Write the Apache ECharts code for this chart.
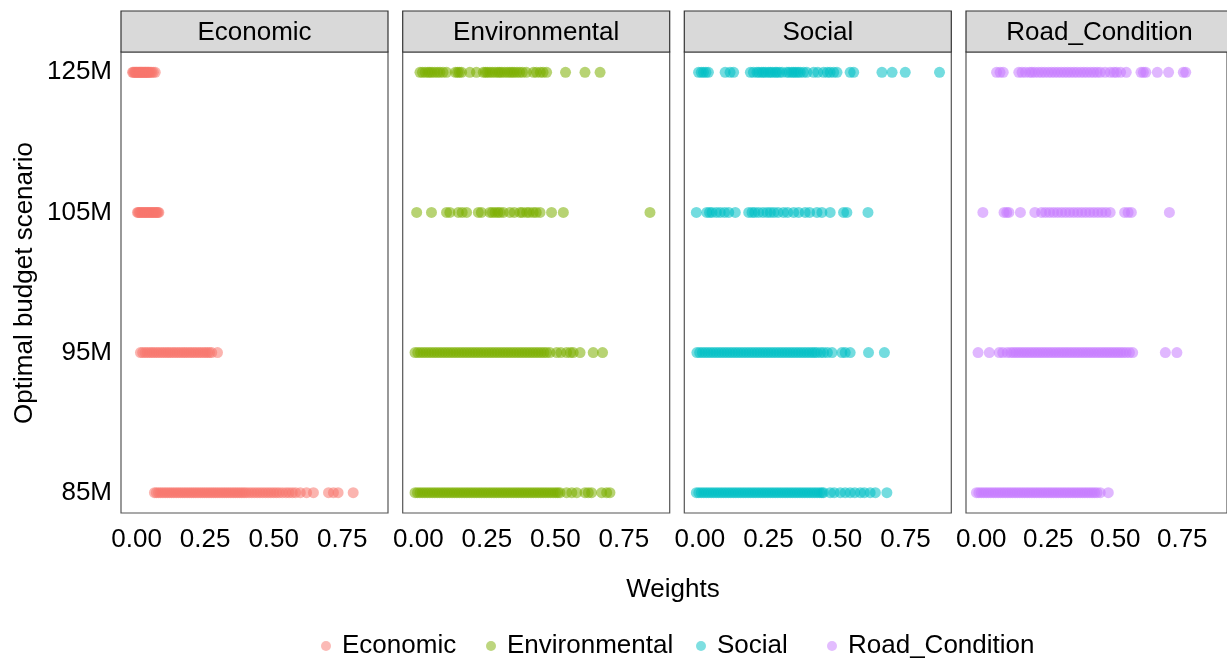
<!DOCTYPE html>
<html>
<head>
<meta charset="utf-8">
<script src="https://cdn.jsdelivr.net/npm/echarts@6/dist/echarts.min.js"></script>
<style>
html,body{margin:0;padding:0;background:#fff;}
#chart{width:1227px;height:658px;}
</style>
</head>
<body>
<div id="chart"></div>
<script>
// ---- data ----
const budgets = ['85M', '95M', '105M', '125M'];
const facets = ['Economic', 'Environmental', 'Social', 'Road_Condition'];
const facetColors = ['#F8766D', '#7CAE00', '#00BFC4', '#C77CFF'];
const xTickValues = [0, 0.25, 0.5, 0.75];

// Economic weights per budget scenario
const econ_85 = [0.065,0.072,0.080,0.088,0.096,0.104,0.112,0.120,0.128,0.136,0.144,0.152,0.160,0.168,0.176,0.184,0.192,0.200,0.208,0.216,0.224,0.232,0.240,0.248,0.256,0.264,0.272,0.280,0.288,0.296,0.304,0.312,0.320,0.328,0.336,0.344,0.352,0.360,0.368,0.376,0.384,0.392,0.400,0.410,0.420,0.430,0.440,0.450,0.460,0.470,0.480,0.490,0.500,0.510,0.520,0.532,0.545,0.556,0.568,0.580,0.597,0.620,0.645,0.700,0.718,0.735,0.790];
const econ_95 = [0.014,0.022,0.031,0.039,0.048,0.056,0.064,0.073,0.081,0.090,0.098,0.107,0.115,0.123,0.132,0.140,0.149,0.157,0.166,0.174,0.182,0.191,0.199,0.208,0.216,0.225,0.233,0.242,0.250,0.258,0.266,0.274,0.295];
const econ_105 = [0.003,0.006,0.010,0.014,0.018,0.022,0.026,0.030,0.034,0.038,0.042,0.046,0.050,0.054,0.058,0.062,0.066,0.070,0.074,0.078,0.081];
const econ_125 = [-0.015,-0.012,-0.008,-0.005,-0.002,0.001,0.004,0.007,0.010,0.013,0.016,0.019,0.022,0.025,0.028,0.031,0.034,0.037,0.040,0.043,0.046,0.050,0.055,0.061,0.068];

// Environmental weights
const env_85 = [-0.012,-0.003,0.006,0.015,0.024,0.033,0.042,0.051,0.060,0.069,0.078,0.087,0.096,0.105,0.114,0.123,0.132,0.141,0.150,0.159,0.168,0.177,0.186,0.195,0.204,0.213,0.222,0.231,0.240,0.249,0.258,0.267,0.276,0.285,0.294,0.303,0.312,0.321,0.330,0.339,0.348,0.357,0.366,0.375,0.384,0.393,0.402,0.411,0.420,0.429,0.438,0.447,0.456,0.465,0.474,0.483,0.492,0.501,0.509,0.517,0.541,0.560,0.578,0.608,0.620,0.632,0.669,0.687,0.699];
const env_95 = [-0.012,-0.002,0.008,0.018,0.028,0.038,0.048,0.058,0.068,0.078,0.088,0.098,0.108,0.118,0.128,0.138,0.148,0.158,0.168,0.178,0.188,0.198,0.208,0.218,0.228,0.238,0.248,0.258,0.268,0.278,0.288,0.298,0.308,0.318,0.328,0.338,0.348,0.358,0.368,0.378,0.388,0.398,0.408,0.418,0.428,0.438,0.448,0.458,0.468,0.480,0.505,0.520,0.541,0.555,0.565,0.590,0.638,0.672];
const env_105 = [-0.006,0.048,0.103,0.115,0.146,0.160,0.176,0.219,0.230,0.261,0.270,0.280,0.290,0.298,0.310,0.334,0.350,0.371,0.380,0.395,0.405,0.419,0.430,0.444,0.486,0.529,0.845];
const env_125 = [0.006,0.015,0.025,0.035,0.042,0.050,0.060,0.070,0.079,0.090,0.103,0.135,0.143,0.150,0.158,0.188,0.212,0.237,0.245,0.252,0.261,0.270,0.280,0.290,0.297,0.305,0.315,0.325,0.334,0.342,0.350,0.360,0.370,0.380,0.394,0.420,0.431,0.445,0.455,0.468,0.537,0.608,0.663];

// Social weights
const soc_85 = [-0.013,-0.004,0.005,0.014,0.023,0.032,0.041,0.050,0.059,0.068,0.077,0.086,0.095,0.104,0.113,0.122,0.131,0.140,0.149,0.158,0.167,0.176,0.185,0.194,0.203,0.212,0.221,0.230,0.239,0.248,0.257,0.266,0.275,0.284,0.293,0.302,0.311,0.320,0.329,0.338,0.347,0.356,0.365,0.374,0.383,0.392,0.401,0.410,0.419,0.428,0.437,0.445,0.451,0.475,0.490,0.512,0.530,0.548,0.565,0.585,0.600,0.621,0.640,0.682];
const soc_95 = [-0.011,-0.001,0.009,0.019,0.029,0.039,0.049,0.059,0.069,0.079,0.089,0.099,0.109,0.119,0.129,0.139,0.149,0.159,0.169,0.179,0.189,0.199,0.209,0.219,0.229,0.239,0.249,0.259,0.269,0.279,0.289,0.299,0.309,0.319,0.329,0.339,0.349,0.359,0.369,0.379,0.389,0.399,0.409,0.418,0.427,0.440,0.451,0.465,0.482,0.518,0.530,0.548,0.615,0.673];
const soc_105 = [-0.013,0.025,0.035,0.044,0.060,0.074,0.090,0.105,0.129,0.178,0.190,0.200,0.214,0.230,0.245,0.257,0.270,0.285,0.305,0.320,0.342,0.360,0.384,0.400,0.427,0.445,0.475,0.524,0.536,0.613];
const soc_125 = [-0.005,0.005,0.013,0.022,0.031,0.092,0.110,0.123,0.184,0.195,0.208,0.215,0.225,0.232,0.240,0.250,0.257,0.265,0.275,0.281,0.290,0.300,0.317,0.325,0.335,0.342,0.350,0.358,0.366,0.378,0.390,0.415,0.430,0.451,0.465,0.475,0.488,0.500,0.548,0.561,0.664,0.701,0.749,0.874];

// Road_Condition weights
const road_85 = [-0.018,-0.009,0.000,0.009,0.018,0.027,0.036,0.045,0.054,0.063,0.072,0.081,0.090,0.099,0.108,0.117,0.126,0.135,0.144,0.153,0.162,0.171,0.180,0.189,0.198,0.207,0.216,0.225,0.234,0.243,0.252,0.261,0.270,0.279,0.288,0.297,0.306,0.315,0.324,0.333,0.342,0.351,0.360,0.369,0.378,0.387,0.396,0.405,0.414,0.423,0.432,0.444,0.474];
const road_95 = [-0.012,0.030,0.067,0.080,0.097,0.110,0.120,0.130,0.140,0.150,0.160,0.170,0.180,0.190,0.200,0.210,0.220,0.230,0.240,0.250,0.260,0.270,0.280,0.290,0.300,0.310,0.320,0.330,0.340,0.350,0.360,0.370,0.380,0.390,0.400,0.410,0.420,0.430,0.440,0.450,0.460,0.470,0.480,0.490,0.500,0.510,0.520,0.530,0.541,0.553,0.565,0.687,0.730];
const road_105 = [0.006,0.085,0.095,0.103,0.146,0.200,0.225,0.240,0.255,0.270,0.285,0.300,0.315,0.330,0.345,0.360,0.375,0.390,0.405,0.420,0.435,0.450,0.465,0.481,0.535,0.548,0.560,0.702];
const road_125 = [0.057,0.070,0.082,0.140,0.152,0.165,0.180,0.189,0.200,0.213,0.225,0.237,0.250,0.262,0.274,0.286,0.298,0.310,0.322,0.334,0.346,0.358,0.371,0.383,0.395,0.408,0.420,0.432,0.444,0.462,0.481,0.495,0.505,0.520,0.541,0.596,0.605,0.614,0.657,0.699,0.754,0.763];

const facetRows = [
  [econ_85, econ_95, econ_105, econ_125],
  [env_85, env_95, env_105, env_125],
  [soc_85, soc_95, soc_105, soc_125],
  [road_85, road_95, road_105, road_125]
];

// ---- layout ----
const FONT = 'Liberation Sans, Arial, Helvetica, sans-serif';
const panelLeft = [121, 402.7, 684.3, 966];
const panelTop = 52, panelW = 267, panelH = 461;
const stripTop = 11, stripH = 41;

const grids = [], xAxes = [], yAxes = [], series = [], graphics = [], legends = [];
facets.forEach((f, i) => {
  grids.push({left: panelLeft[i], top: panelTop, width: panelW, height: panelH,
    show: true, borderColor: '#555', borderWidth: 1.2, backgroundColor: '#fff'});
  xAxes.push({type: 'value', gridIndex: i, min: -0.057, max: 0.917,
    axisLine: {show: false}, axisTick: {show: false}, splitLine: {show: false},
    axisLabel: {customValues: xTickValues, formatter: v => v.toFixed(2),
      fontSize: 26, color: '#000', fontFamily: FONT, margin: 14}});
  yAxes.push({type: 'value', gridIndex: i, min: -0.145, max: 3.145,
    axisLine: {show: false}, axisTick: {show: false}, splitLine: {show: false},
    axisLabel: {show: i === 0, customValues: [0, 1, 2, 3], formatter: v => budgets[Math.round(v)],
      fontSize: 26, color: '#000', fontFamily: FONT, margin: 9}});
  const data = [];
  facetRows[i].forEach((row, bi) => row.forEach(x => data.push([x, bi])));
  series.push({name: f, type: 'scatter', xAxisIndex: i, yAxisIndex: i, data: data,
    symbol: 'circle', symbolSize: 11, itemStyle: {color: facetColors[i], opacity: 0.55},
    emphasis: {disabled: true}, silent: true, animation: false});
  graphics.push({type: 'rect', shape: {x: panelLeft[i], y: stripTop, width: panelW, height: stripH},
    style: {fill: '#d9d9d9', stroke: '#333', lineWidth: 1.2}, z: 10});
  graphics.push({type: 'text', x: panelLeft[i] + panelW / 2, y: stripTop + stripH / 2 + 1,
    style: {text: f, font: '26px ' + FONT, fill: '#000', textAlign: 'center', textVerticalAlign: 'middle'}, z: 11});
});

graphics.push({type: 'text', x: 673, y: 590,
  style: {text: 'Weights', font: '26px ' + FONT, fill: '#000', textAlign: 'center', textVerticalAlign: 'middle'}});
graphics.push({type: 'text', x: 25, y: 283, rotation: Math.PI / 2,
  style: {text: 'Optimal budget scenario', font: '26px ' + FONT, fill: '#000', textAlign: 'center', textVerticalAlign: 'middle'}});

const legendIconCenters = [327, 492, 702, 833];
facets.forEach((f, i) => {
  legends.push({data: [{name: f, itemStyle: {opacity: 0.5}}], left: legendIconCenters[i] - 11, top: 627,
    icon: 'circle', itemWidth: 22, itemHeight: 10, selectedMode: false,
    textStyle: {fontSize: 26, color: '#000', fontFamily: FONT, lineHeight: 28}});
});

const chart = echarts.init(document.getElementById('chart'), null, {renderer: 'canvas'});
chart.setOption({
  backgroundColor: '#fff',
  animation: false,
  grid: grids, xAxis: xAxes, yAxis: yAxes, series: series,
  legend: legends, graphic: graphics
});
</script>
</body>
</html>
